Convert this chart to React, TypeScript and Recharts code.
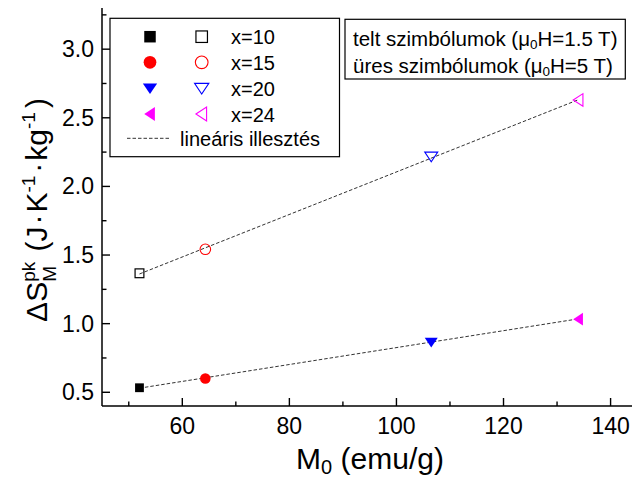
import React from 'react';
import { ScatterChart, Scatter, XAxis, YAxis } from 'recharts';

const compositions = ['x=10', 'x=15', 'x=20', 'x=24'];
const colors = ['#000000', '#ff0000', '#0000ff', '#ff00ff'];
const shapes = ['square', 'circle', 'triangleDown', 'triangleLeft'];
const m0 = [52, 64.3, 106.5, 134];
const dsFilled = [0.533, 0.6, 0.865, 1.033]; // mu0H = 1.5 T
const dsOpen = [1.367, 1.542, 2.217, 2.63]; // mu0H = 5 T
const fitX = [52, 134];
const fitFilled = [0.53, 1.035];
const fitOpen = [1.362, 2.632];
const xTicks = [50, 60, 70, 80, 90, 100, 110, 120, 130, 140];
const yTicks = [0.5, 0.75, 1.0, 1.25, 1.5, 1.75, 2.0, 2.25, 2.5, 2.75, 3.0, 3.25];
const xMajorLabels = [60, 80, 100, 120, 140];
const yMajorLabels = [0.5, 1.0, 1.5, 2.0, 2.5, 3.0];

const FF = "'Liberation Sans', Arial, sans-serif";

function Marker({ kind, cx, cy, color, filled, size }: any) {
  const fill = filled ? color : 'none';
  const sw = filled ? 0 : 1.1;
  const h = size / 2;
  if (kind === 'square') {
    return <rect x={cx - h} y={cy - h} width={size} height={size} fill={fill} stroke={color} strokeWidth={filled ? 0 : 1.2} />;
  }
  if (kind === 'circle') {
    return <circle cx={cx} cy={cy} r={h + 0.6} fill={fill} stroke={color} strokeWidth={sw} />;
  }
  if (kind === 'triangleDown') {
    const w = size * 0.62;
    return (
      <polygon
        points={`${cx - w},${cy - h * 0.85} ${cx + w},${cy - h * 0.85} ${cx},${cy + h * 1.0}`}
        fill={fill}
        stroke={color}
        strokeWidth={sw}
      />
    );
  }
  const w = size * 0.6;
  return (
    <polygon
      points={`${cx - h * 1.0},${cy} ${cx + h * 0.85},${cy - w} ${cx + h * 0.85},${cy + w}`}
      fill={fill}
      stroke={color}
      strokeWidth={sw}
    />
  );
}

const BottomTick = (p: any) => {
  const v = p.payload.value;
  const major = xMajorLabels.includes(v);
  return (
    <g>
      <line x1={p.x} x2={p.x} y1={p.y} y2={p.y - (major ? 8 : 4.5)} stroke="#000" strokeWidth={1.4} />
      {major && (
        <text x={p.x} y={p.y + 28} textAnchor="middle" fontSize={23} fontFamily={FF} fill="#000">
          {v}
        </text>
      )}
    </g>
  );
};

const TopTick = (p: any) => {
  const v = p.payload.value;
  const major = xMajorLabels.includes(v);
  return <line x1={p.x} x2={p.x} y1={p.y} y2={p.y + (major ? 8 : 4.5)} stroke="#000" strokeWidth={1.4} />;
};

const LeftTick = (p: any) => {
  const v = p.payload.value;
  const major = yMajorLabels.includes(v);
  return (
    <g>
      <line x1={p.x} x2={p.x + (major ? 8 : 4.5)} y1={p.y} y2={p.y} stroke="#000" strokeWidth={1.4} />
      {major && (
        <text x={p.x - 8} y={p.y + 8} textAnchor="end" fontSize={23} fontFamily={FF} fill="#000">
          {v.toFixed(1)}
        </text>
      )}
    </g>
  );
};

const RightTick = (p: any) => {
  const v = p.payload.value;
  const major = yMajorLabels.includes(v);
  return <line x1={p.x} x2={p.x - (major ? 8 : 4.5)} y1={p.y} y2={p.y} stroke="#000" strokeWidth={1.4} />;
};

const noShape = () => <g />;

export default function App() {
  const fitLower = fitX.map((x, i) => ({ x, y: fitFilled[i] }));
  const fitUpper = fitX.map((x, i) => ({ x, y: fitOpen[i] }));
  const legendRows = [36.7, 62.3, 88.3, 114];
  const markerSize = [8.8, 9.4, 10.5, 10.5];
  return (
    <div style={{ position: 'absolute', left: 0, top: 0, width: 633, height: 480, background: '#fff' }}>
      <ScatterChart width={633} height={480} margin={{ top: 8, right: 1, bottom: 0, left: 0 }}>
        <XAxis
          xAxisId="b"
          type="number"
          dataKey="x"
          domain={[45, 144]}
          ticks={xTicks}
          interval={0}
          height={74}
          tickSize={0}
          tickMargin={0}
          tickLine={false}
          tick={BottomTick}
          axisLine={{ stroke: '#000', strokeWidth: 1.5 }}
          allowDataOverflow
        />
        <XAxis
          xAxisId="t"
          orientation="top"
          type="number"
          dataKey="x"
          domain={[45, 144]}
          ticks={xTicks}
          interval={0}
          height={0}
          tickSize={0}
          tickMargin={0}
          tickLine={false}
          tick={TopTick}
          axisLine={{ stroke: '#000', strokeWidth: 1.5 }}
          allowDataOverflow
        />
        <YAxis
          yAxisId="l"
          type="number"
          dataKey="y"
          domain={[0.4, 3.3]}
          ticks={yTicks}
          interval={0}
          width={102}
          tickSize={0}
          tickMargin={0}
          tickLine={false}
          tick={LeftTick}
          axisLine={{ stroke: '#000', strokeWidth: 1.5 }}
          allowDataOverflow
        />
        <YAxis
          yAxisId="r"
          orientation="right"
          type="number"
          dataKey="y"
          domain={[0.4, 3.3]}
          ticks={yTicks}
          interval={0}
          width={0}
          tickSize={0}
          tickMargin={0}
          tickLine={false}
          tick={RightTick}
          axisLine={{ stroke: '#000', strokeWidth: 1.5 }}
          allowDataOverflow
        />
        <Scatter
          xAxisId="b"
          yAxisId="l"
          data={fitLower}
          line={{ stroke: '#333', strokeWidth: 1, strokeDasharray: '3.5 2' }}
          shape={noShape}
          isAnimationActive={false}
        />
        <Scatter
          xAxisId="b"
          yAxisId="l"
          data={fitUpper}
          line={{ stroke: '#333', strokeWidth: 1, strokeDasharray: '3.5 2' }}
          shape={noShape}
          isAnimationActive={false}
        />
        {compositions.map((c, i) => (
          <Scatter
            key={'f' + c}
            name={c + ' (1.5 T)'}
            xAxisId="b"
            yAxisId="l"
            data={[{ x: m0[i], y: dsFilled[i] }]}
            shape={(p: any) => <Marker kind={shapes[i]} cx={p.cx} cy={p.cy} color={colors[i]} filled size={markerSize[i]} />}
            isAnimationActive={false}
          />
        ))}
        {compositions.map((c, i) => (
          <Scatter
            key={'o' + c}
            name={c + ' (5 T)'}
            xAxisId="b"
            yAxisId="l"
            data={[{ x: m0[i], y: dsOpen[i] }]}
            shape={(p: any) => <Marker kind={shapes[i]} cx={p.cx} cy={p.cy} color={colors[i]} filled={false} size={markerSize[i]} />}
            isAnimationActive={false}
          />
        ))}
      </ScatterChart>
      <svg width={633} height={480} style={{ position: 'absolute', left: 0, top: 0, pointerEvents: 'none' }}>
        {/* x-axis title */}
        <text x={370} y={469} textAnchor="middle" fontSize={30} fontFamily={FF} fill="#000">
          <tspan>M</tspan>
          <tspan fontSize={20} dy={5}>0</tspan>
          <tspan dy={-5}> (emu/g)</tspan>
        </text>
        {/* y-axis title */}
        <text transform="translate(47,210) rotate(-90)" textAnchor="middle" fontSize={30} fontFamily={FF} fill="#000">
          <tspan>ΔS</tspan>
          <tspan fontSize={19} dy={-12}>pk</tspan>
          <tspan fontSize={19} dx={-20} dy={21}>M</tspan>
          <tspan dx={6} dy={-9}> (J</tspan>
          <tspan dx={2}>·</tspan>
          <tspan dx={2}>K</tspan>
          <tspan fontSize={19} dy={-12}>-1</tspan>
          <tspan dx={3} dy={12}>·</tspan>
          <tspan dx={2}>kg</tspan>
          <tspan fontSize={19} dy={-12}>-1</tspan>
          <tspan dx={4} dy={12}>)</tspan>
        </text>
        {/* legend 1 */}
        <rect x={110} y={18.3} width={229.5} height={138.4} fill="#fff" stroke="#000" strokeWidth={1.2} />
        {compositions.map((c, i) => (
          <g key={'lg' + c}>
            <Marker kind={shapes[i]} cx={150} cy={legendRows[i]} color={colors[i]} filled size={11.5} />
            <Marker kind={shapes[i]} cx={201.7} cy={legendRows[i]} color={colors[i]} filled={false} size={11.5} />
            <text x={231} y={legendRows[i] + 7.5} fontSize={20} fontFamily={FF} fill="#000">
              {c}
            </text>
          </g>
        ))}
        <line x1={127} x2={171} y1={138.3} y2={138.3} stroke="#333" strokeWidth={1} strokeDasharray="3.5 2" />
        <text x={180} y={145.5} fontSize={20} fontFamily={FF} fill="#000">
          lineáris illesztés
        </text>
        {/* legend 2 */}
        <rect x={345} y={19.3} width={280.3} height={59.7} fill="#fff" stroke="#000" strokeWidth={1.2} />
        <text x={353} y={46} fontSize={20.5} fontFamily={FF} fill="#000">
          <tspan>telt szimbólumok (μ</tspan>
          <tspan fontSize={13.5} dy={3}>0</tspan>
          <tspan dy={-3}>H=1.5 T)</tspan>
        </text>
        <text x={353} y={72.5} fontSize={20.5} fontFamily={FF} fill="#000">
          <tspan>üres szimbólumok (μ</tspan>
          <tspan fontSize={13.5} dy={3}>0</tspan>
          <tspan dy={-3}>H=5 T)</tspan>
        </text>
      </svg>
    </div>
  );
}
